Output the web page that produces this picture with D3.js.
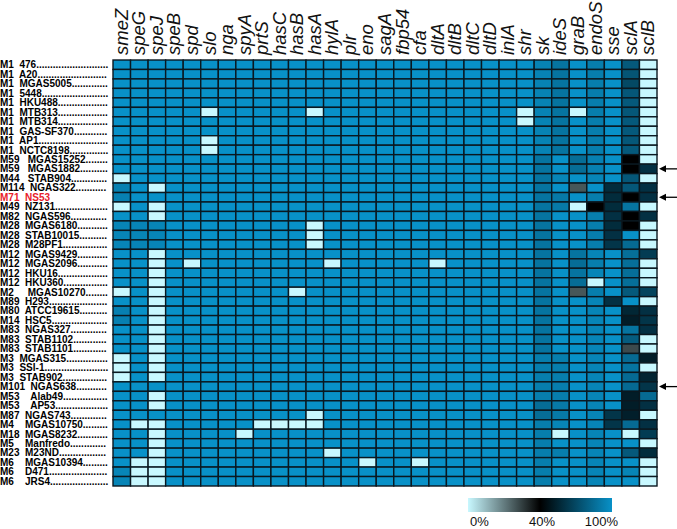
<!DOCTYPE html>
<html>
<head>
<meta charset="utf-8">
<script src="https://cdn.jsdelivr.net/npm/d3@7"></script>
<style>
  body { margin: 0; background: #fff; }
  svg { display: block; }
  .rowlab { white-space: pre; }
</style>
</head>
<body>
<div id="chart"></div>
<script>
// virulence genes (columns)
const genes = ["smeZ", "speG", "speJ", "speB", "spd", "slo", "nga", "spyA", "prtS", "hasC",
  "hasB", "hasA", "hylA", "plr", "eno", "sagA", "fbp54", "cfa", "dltA", "dltB",
  "dltC", "dltD", "inlA", "shr", "sk", "ideS", "graB", "endoS", "sse", "sclA", "sclB"]

// strains (rows)
const strains = ["M1  476", "M1  A20", "M1  MGAS5005", "M1  5448", "M1  HKU488", "M1  MTB313",
  "M1  MTB314", "M1  GAS-SF370", "M1  AP1", "M1  NCTC8198", "M59   MGAS15252", "M59   MGAS1882",
  "M44   STAB904", "M114  NGAS322", "M71  NS53", "M49  NZ131", "M82  NGAS596", "M28  MGAS6180",
  "M28  STAB10015", "M28  M28PF1", "M12  MGAS9429", "M12  MGAS2096", "M12  HKU16", "M12  HKU360",
  "M2     MGAS10270", "M89  H293", "M80  ATCC19615", "M14  HSC5", "M83  NGAS327", "M83  STAB1102",
  "M83  STAB1101", "M3  MGAS315", "M3  SSI-1", "M3  STAB902", "M101  NGAS638", "M53    Alab49",
  "M53    AP53", "M87  NGAS743", "M4    MGAS10750", "M18  MGAS8232", "M5    Manfredo", "M23  M23ND",
  "M6    MGAS10394", "M6    D471", "M6    JRS4"]

const highlighted = ["M71  NS53"]
const arrowed = ["M59   MGAS1882", "M71  NS53", "M101  NGAS638"]

// identity (%) per strain, one value per gene
const values = [
  [100,100,100,100,100, 100,100,100,100,100, 100,100,100,100,100, 100,100,100,100,100, 100,100,100, 100,94,88,100,92,100,77,0],
  [100,100,100,100,100, 100,100,100,100,100, 100,100,100,100,100, 100,100,100,100,100, 100,100,100, 100,94,88,100,92,100,75,0],
  [100,100,100,100,100, 100,100,100,100,100, 100,100,100,100,100, 100,100,100,100,100, 100,100,100, 100,94,88,100,92,100,70,0],
  [100,100,100,100,100, 100,100,100,100,100, 100,100,100,100,100, 100,100,100,100,100, 100,100,100, 100,94,88,100,92,100,76,0],
  [100,100,100,100,100, 100,100,100,100,100, 100,100,100,100,100, 100,100,100,100,100, 100,100,100, 100,94,88,100,92,100,77,0],
  [100,100,100,100,100, 0,100,100,100,100, 100,0,100,100,100, 100,100,100,100,100, 100,100,100, 0,94,88,0,92,100,76,0],
  [100,100,100,100,100, 100,100,100,100,100, 100,100,100,100,100, 100,100,100,100,100, 100,100,100, 0,94,88,100,92,100,77,0],
  [100,100,100,100,100, 100,100,100,100,100, 100,100,100,100,100, 100,100,100,100,100, 100,100,100, 100,94,88,100,92,100,77,0],
  [100,100,100,100,100, 0,100,100,100,100, 100,100,100,100,100, 100,100,100,100,100, 100,100,100, 100,94,88,100,92,100,76,0],
  [100,100,100,100,100, 0,100,100,100,100, 100,100,100,100,100, 100,100,100,100,100, 100,100,100, 100,94,88,100,92,100,77,0],
  [100,100,100,100,100, 100,100,100,100,100, 100,100,100,100,100, 100,100,100,100,100, 100,100,100, 100,88,100,85,93,100,40,0],
  [100,100,100,100,100, 100,100,100,100,100, 100,100,100,100,100, 100,100,100,100,100, 100,100,100, 100,88,100,85,93,100,40,60],
  [0,100,100,100,100, 100,100,100,100,100, 100,100,100,100,100, 100,100,100,100,100, 100,100,100, 100,88,95,100,95,100,76,0],
  [93,100,0,100,100, 100,100,100,100,100, 100,100,100,100,100, 100,100,100,100,100, 100,100,100, 100,88,100,26,100,58,76,60],
  [93,100,100,100,100, 100,100,100,100,100, 100,100,100,100,100, 100,100,100,100,100, 100,100,100, 100,88,90,100,92,58,40,60],
  [0,100,0,100,100, 100,100,100,100,100, 100,100,100,100,100, 100,100,100,100,100, 100,100,100, 100,88,90,0,40,58,88,0],
  [100,100,0,100,100, 100,100,100,100,100, 100,100,100,100,100, 100,100,100,100,100, 100,100,100, 100,88,100,100,92,60,40,60],
  [95,95,95,100,100, 100,100,100,100,100, 100,0,100,100,100, 100,100,100,100,100, 100,100,100, 100,88,100,100,92,58,40,0],
  [95,95,95,100,100, 100,100,100,100,100, 100,0,100,100,100, 100,100,100,100,100, 100,100,100, 100,88,100,100,92,60,100,0],
  [95,95,95,100,100, 100,100,100,100,100, 100,0,100,100,100, 100,100,100,100,100, 100,100,100, 100,88,100,100,92,62,84,0],
  [100,100,0,100,100, 100,100,100,100,100, 100,100,100,100,100, 100,100,100,100,100, 100,100,100, 100,88,100,88,95,100,86,65],
  [100,100,0,100,0, 100,100,100,100,100, 100,100,0,100,100, 100,100,100,0,100, 100,100,100, 100,88,100,85,92,100,86,0],
  [100,100,0,100,100, 100,100,100,100,100, 100,100,100,100,100, 100,100,100,100,100, 100,100,100, 100,88,100,88,95,100,86,0],
  [100,100,0,100,100, 100,100,100,100,100, 100,100,100,100,100, 100,100,100,100,100, 100,100,100, 100,88,100,85,0,100,86,0],
  [0,100,0,100,100, 100,100,100,100,100, 0,100,100,100,100, 100,100,100,100,100, 100,100,100, 100,88,100,26,92,100,77,68],
  [100,100,0,100,100, 100,100,100,100,100, 100,100,100,100,100, 100,100,100,100,100, 100,100,100, 100,88,100,100,95,60,100,0],
  [93,100,0,100,100, 100,100,100,100,100, 100,100,100,100,100, 100,100,100,100,100, 100,100,100, 100,88,100,100,95,100,56,60],
  [93,100,0,100,100, 100,100,100,100,100, 100,100,100,100,100, 100,100,100,100,100, 100,100,100, 100,88,100,100,95,100,52,62],
  [100,100,0,100,100, 100,100,100,100,100, 100,100,100,100,100, 100,100,100,100,100, 100,100,100, 100,88,100,100,95,100,88,60],
  [100,100,0,100,100, 100,100,100,100,100, 100,100,100,100,100, 100,100,100,100,100, 100,100,100, 100,88,100,100,95,100,78,0],
  [100,100,0,100,100, 100,100,100,100,100, 100,100,100,100,100, 100,100,100,100,100, 100,100,100, 100,88,100,100,95,100,28,0],
  [0,100,0,100,100, 100,100,100,100,100, 100,100,100,100,100, 100,100,100,100,100, 100,100,100, 100,92,92,100,95,100,84,52],
  [0,100,0,100,100, 100,100,100,100,100, 100,100,100,100,100, 100,100,100,100,100, 100,100,100, 100,92,92,100,95,100,88,0],
  [0,100,0,100,100, 100,100,100,100,100, 100,100,100,100,100, 100,100,100,100,100, 100,100,100, 100,92,92,100,95,100,84,55],
  [100,100,100,100,100, 100,100,100,100,100, 100,100,100,100,100, 100,100,100,100,100, 100,100,100, 100,92,92,100,95,100,84,62],
  [100,100,0,100,100, 100,100,100,100,100, 100,100,100,100,100, 100,100,100,100,100, 100,100,100, 100,92,92,100,95,100,52,84],
  [100,100,0,100,100, 100,100,100,100,100, 100,100,100,100,100, 100,100,100,100,100, 100,100,100, 100,85,90,100,95,100,52,60],
  [100,100,100,100,100, 100,100,100,100,100, 100,0,100,100,100, 100,100,100,100,100, 100,100,100, 100,85,90,100,95,62,53,0],
  [100,0,0,100,100, 100,100,100,0,0, 0,0,100,100,100, 100,100,100,100,100, 100,100,100, 100,92,95,100,95,62,84,60],
  [100,100,0,100,100, 100,100,0,100,100, 100,100,100,100,100, 100,100,100,100,100, 100,100,100, 100,92,0,100,95,100,0,65],
  [100,100,0,100,100, 100,100,100,100,100, 100,100,100,100,100, 100,100,100,100,100, 100,100,100, 100,92,100,100,95,100,100,0],
  [100,100,0,100,100, 100,100,100,100,100, 100,100,0,100,100, 100,100,100,100,100, 100,100,100, 100,92,92,100,95,100,77,58],
  [100,0,0,100,100, 100,100,100,100,100, 100,100,100,100,0, 100,100,0,100,100, 100,100,100, 100,92,100,100,95,100,100,0],
  [95,0,0,100,100, 100,100,100,100,100, 100,100,100,100,100, 100,100,100,100,100, 100,100,100, 100,92,100,100,95,100,95,0],
  [95,0,0,100,100, 100,100,100,100,100, 100,100,100,100,100, 100,100,100,100,100, 100,100,100, 100,92,100,100,95,100,100,0]
]

// colour bar
const legendStops = [0, 40, 100]
const legendLabels = ["0%", "40%", "100%"]
const legendColors = ["#c8f8ff", "#000000", "#0891c8"]

const width = 677
const height = 529

const svg = d3.select("#chart").append("svg")
  .attr("width", width)
  .attr("height", height)
  .style("font-family", "'Liberation Sans', Arial, sans-serif")

const x = d3.scaleBand().domain(genes).range([113, 657])
const y = d3.scaleBand().domain(strains).range([60, 486])
const color = d3.scaleLinear().domain(legendStops).range(legendColors)

// flatten into cells
var cells = []
strains.forEach((s, i) => {
  genes.forEach((g, j) => {
    cells.push({ strain: s, gene: g, value: values[i][j] })
  })
})

svg.append("g").selectAll("rect")
  .data(cells)
  .enter().append("rect")
  .attr("x", d => x(d.gene))
  .attr("y", d => y(d.strain))
  .attr("width", x.bandwidth())
  .attr("height", y.bandwidth())
  .style("fill", d => color(d.value))
  .style("stroke", "#0a1820")
  .style("stroke-width", 1.4)

// gene labels, rotated
svg.append("g").selectAll("text")
  .data(genes)
  .enter().append("text")
  .attr("transform", d => `translate(${x(d) + x.bandwidth() / 2 + 6},55) rotate(-90)`)
  .style("font-size", "18.5px")
  .style("font-style", "italic")
  .style("fill", "#111")
  .text(d => d)

// strain labels with dot leaders
var rowLabels = svg.append("g").selectAll("text")
  .data(strains)
  .enter().append("text")
  .attr("class", "rowlab")
  .attr("x", 0)
  .attr("y", d => y(d) + y.bandwidth() / 2 + 3.6)
  .style("font-size", "10px")
  .style("font-weight", "bold")
  .style("fill", d => highlighted.includes(d) ? "#e8202a" : "#000")
  .text(d => d)

rowLabels.each(function (d) {
  if (highlighted.includes(d)) return
  var node = this
  var txt = d
  var guard = 0
  while (node.getComputedTextLength() < 106 && guard < 200) {
    txt += "."
    node.textContent = txt
    guard++
  }
})

// arrows marking strains
var arrows = svg.append("g").selectAll("g")
  .data(arrowed)
  .enter().append("g")
  .attr("transform", d => `translate(0,${y(d) + y.bandwidth() / 2})`)

arrows.append("line")
  .attr("x1", 664).attr("x2", 677)
  .attr("y1", 0).attr("y2", 0)
  .style("stroke", "#000")
  .style("stroke-width", 1.3)

arrows.append("path")
  .attr("d", "M659,0L666,-3.5L666,3.5Z")
  .style("fill", "#000")

// colour bar
const lx = d3.scaleLinear().domain(legendStops).range([468, 540, 612])
var grad = svg.append("defs").append("linearGradient")
  .attr("id", "bar")
  .attr("x1", "0%").attr("x2", "100%")
  .attr("y1", "0%").attr("y2", "0%")

grad.selectAll("stop")
  .data(legendStops)
  .enter().append("stop")
  .attr("offset", d => ((lx(d) - lx(0)) / (lx(100) - lx(0)) * 100) + "%")
  .attr("stop-color", d => color(d))

svg.append("rect")
  .attr("x", lx(0))
  .attr("y", 498)
  .attr("width", lx(100) - lx(0))
  .attr("height", 14)
  .style("fill", "url(#bar)")

svg.append("g").selectAll("text")
  .data(legendStops)
  .enter().append("text")
  .attr("x", (d, i) => i == 0 ? lx(d) + 2 : i == 1 ? lx(d) + 2 : lx(d) + 6)
  .attr("y", 525.5)
  .attr("text-anchor", (d, i) => i == 0 ? "start" : i == 1 ? "middle" : "end")
  .style("font-size", "13px")
  .style("fill", "#111")
  .text((d, i) => legendLabels[i])
</script>
</body>
</html>
